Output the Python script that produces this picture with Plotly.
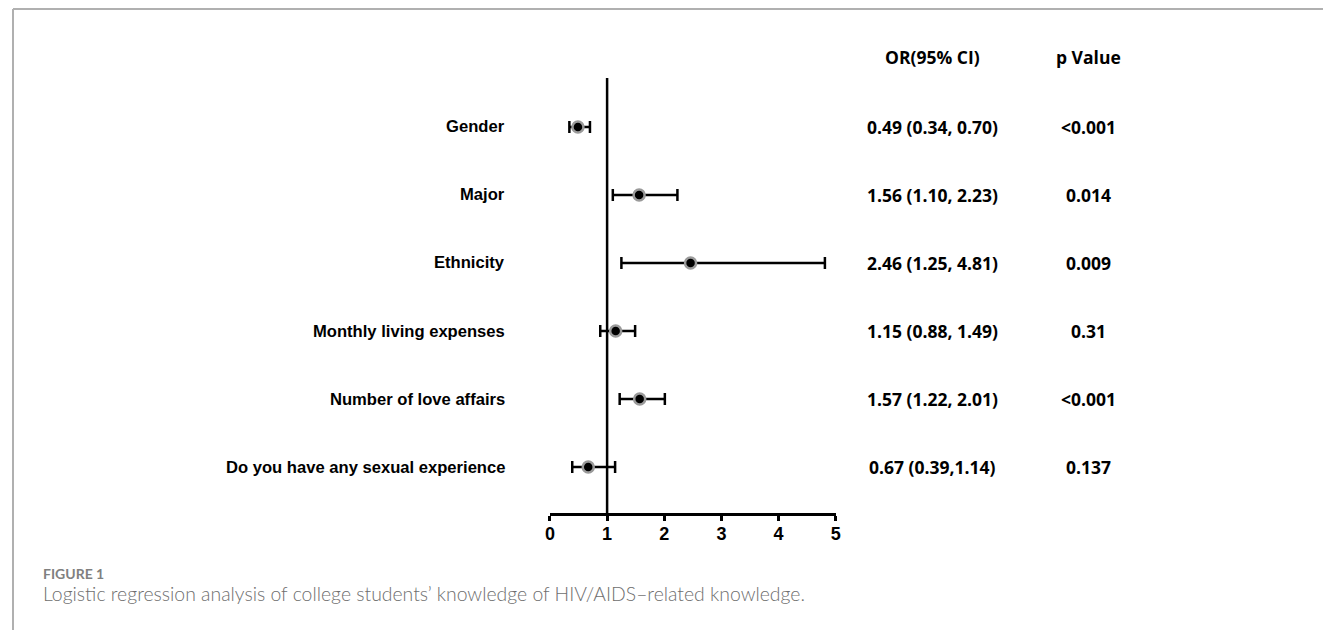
import plotly.graph_objects as go

categories = ["Gender", "Major", "Ethnicity", "Monthly living expenses",
              "Number of love affairs", "Do you have any sexual experience"]
or_vals = [0.49, 1.56, 2.46, 1.15, 1.57, 0.67]
ci_low = [0.34, 1.10, 1.25, 0.88, 1.22, 0.39]
ci_high = [0.70, 2.23, 4.81, 1.49, 2.01, 1.14]
or_text = ["0.49 (0.34, 0.70)", "1.56 (1.10, 2.23)", "2.46 (1.25, 4.81)",
           "1.15 (0.88, 1.49)", "1.57 (1.22, 2.01)", "0.67 (0.39,1.14)"]
p_text = ["<0.001", "0.014", "0.009", "0.31", "<0.001", "0.137"]
x_ticks = [0, 1, 2, 3, 4, 5]

W, H = 1331, 630
OFF = 8  # page body margin
n = len(categories)
ypos = [n - i for i in range(n)]

fig = go.Figure()
fig.add_trace(go.Scatter(
    x=or_vals, y=ypos, mode="markers",
    marker=dict(size=11, color="black", line=dict(color="#9a9a9a", width=2.5)),
    error_x=dict(type="data", symmetric=False,
                 array=[h - v for h, v in zip(ci_high, or_vals)],
                 arrayminus=[v - l for v, l in zip(or_vals, ci_low)],
                 color="black", thickness=2.5, width=6),
    showlegend=False, hoverinfo="skip",
))

def px_x(p):
    return (p - OFF) / W

def px_y(p):
    return 1 - (p - OFF) / H

fig.update_layout(
    width=W, height=H, margin=dict(l=0, r=0, t=0, b=0),
    paper_bgcolor="white", plot_bgcolor="white",
    xaxis=dict(domain=[px_x(549), px_x(837)], range=[0, 5], tickvals=x_ticks,
               showgrid=False, zeroline=False, showline=True, linecolor="black",
               linewidth=2.5, ticks="outside", ticklen=5, tickwidth=2.5,
               tickcolor="black", ticklabelstandoff=-2,
               tickfont=dict(family="Liberation Sans", size=18, color="black",
                             weight="bold"),
               anchor="y"),
    yaxis=dict(domain=[px_y(513), px_y(78)], range=[0.324, 6.72],
               showgrid=False, zeroline=False, showline=False,
               showticklabels=False, ticks=""),
)

# reference line at OR = 1
fig.add_shape(type="line", xref="x", yref="y", x0=1, x1=1, y0=0.324, y1=6.72,
              line=dict(color="black", width=2.5))

# frame
fig.add_shape(type="line", xref="paper", yref="paper", x0=px_x(8), x1=1,
              y0=px_y(9), y1=px_y(9), line=dict(color="#b0b0b0", width=2))
fig.add_shape(type="line", xref="paper", yref="paper", x0=px_x(8), x1=px_x(8),
              y0=0, y1=px_y(9), line=dict(color="#b0b0b0", width=2))

lab_font = dict(family="Liberation Sans", size=16.6, color="black", weight="bold")
col_font = dict(family="Open Sans", size=17.5, color="black", weight="bold")

for yv, cat, ot, pt in zip(ypos, categories, or_text, p_text):
    fig.add_annotation(x=px_x(506), xref="paper", y=yv, yref="y", text=cat,
                       showarrow=False, xanchor="right", font=lab_font)
    fig.add_annotation(x=px_x(934), xref="paper", y=yv, yref="y", text=ot,
                       showarrow=False, xanchor="center", font=col_font)
    fig.add_annotation(x=px_x(1092), xref="paper", y=yv, yref="y", text=pt,
                       showarrow=False, xanchor="center", font=col_font)

fig.add_annotation(x=px_x(934), xref="paper", y=px_y(57), yref="paper",
                   text="OR(95% CI)", showarrow=False, xanchor="center",
                   yanchor="middle", font=col_font)
fig.add_annotation(x=px_x(1092), xref="paper", y=px_y(57), yref="paper",
                   text="p Value", showarrow=False, xanchor="center",
                   yanchor="middle", font=col_font)

# caption
fig.add_annotation(x=px_x(36), xref="paper", y=px_y(573), yref="paper",
                   text="FIGURE 1", showarrow=False, xanchor="left",
                   yanchor="middle",
                   font=dict(family="Lato", size=14, color="#808080", weight="bold"))
fig.add_annotation(x=px_x(36), xref="paper", y=px_y(593), yref="paper",
                   text="Logistic regression analysis of college students’ knowledge of HIV/AIDS–related knowledge.",
                   showarrow=False, xanchor="left", yanchor="middle",
                   font=dict(family="Lato", size=19.4, color="#6e6e6e", weight=300))

fig.write_html("out.html")
